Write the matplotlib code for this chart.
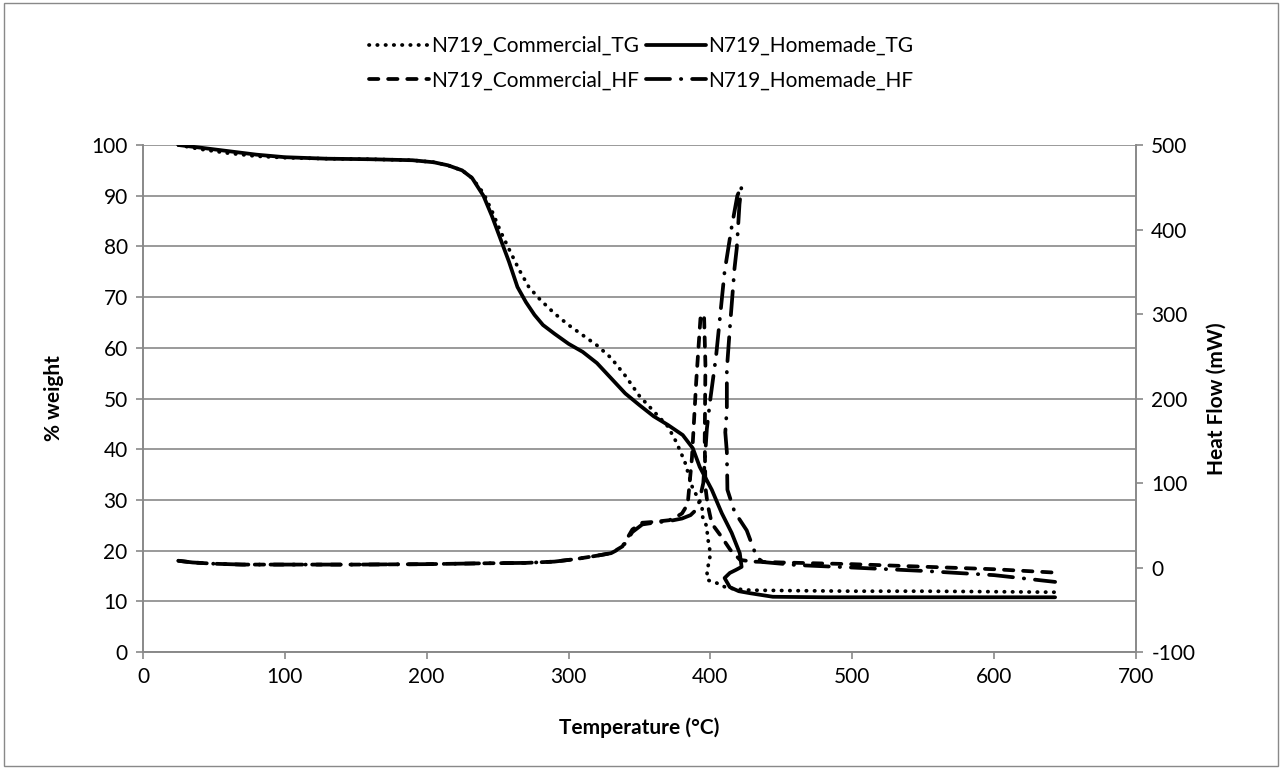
import matplotlib.pyplot as plt
from matplotlib.lines import Line2D
from matplotlib.patches import Rectangle

plt.rcParams['font.family'] = ['Lato', 'DejaVu Sans']
plt.rcParams['axes.unicode_minus'] = False

# TG curves (% weight vs temperature)
temp_comm_tg = [25, 40, 60, 80, 100, 130, 160, 190, 205, 215, 225, 232, 240, 246, 252, 258,
                265, 272, 280, 290, 300, 310, 320, 330, 340, 350, 360, 370, 376, 382, 387.5,
                394, 394.6, 397.5, 398, 399.6, 399.6, 397.5, 398, 404.5, 412, 428, 460, 500,
                550, 600, 643]
wt_comm_tg = [100, 99.2, 98.4, 97.8, 97.5, 97.3, 97.2, 97.0, 96.6, 96, 95, 93.5, 90.5, 87, 83,
              79.5, 75.5, 72, 69.5, 66.8, 64.5, 62.5, 60.5, 58, 54.5, 50.5, 47.5, 44.5, 41.4,
              37.5, 32.3, 29, 26.6, 24.7, 22.7, 20.1, 18.1, 16.2, 14.2, 13.6, 12.6, 12.2, 12.1,
              12.0, 12.0, 11.9, 11.8]

temp_home_tg = [25, 40, 60, 80, 100, 130, 160, 190, 205, 215, 225, 232, 240, 246, 252, 258,
                264, 270, 276, 282, 290, 300, 310, 320, 330, 340, 350, 360, 370, 380.5, 387.6,
                392.5, 401, 408, 415, 420.7, 422, 418, 413.7, 410, 413.7, 420, 428, 444, 480,
                550, 600, 643]
wt_home_tg = [100, 99.5, 98.8, 98.1, 97.6, 97.3, 97.2, 97.0, 96.6, 96, 95, 93.5, 90, 86, 81.5,
              77, 72, 69, 66.5, 64.5, 62.8, 60.8, 59.2, 57, 54, 51, 48.7, 46.5, 44.8, 42.8,
              40.2, 36.5, 32, 27.4, 23.5, 19.5, 16.8, 16.2, 15.6, 14.6, 12.8, 12.0, 11.6, 10.9,
              10.8, 10.8, 10.8, 10.8]

# heat flow curves (mW vs temperature)
temp_comm_hf = [25, 35, 50, 70, 100, 150, 200, 240, 270, 290, 305, 320, 330, 338, 345, 352,
                360, 371, 376, 380, 384, 387, 390, 393, 395.5, 396.5, 396, 396.5, 398, 401,
                408, 414, 421, 430, 450, 500, 550, 600, 643]
hf_comm = [8, 6, 4.5, 3.5, 3.5, 3.5, 4, 5, 5.5, 7, 10, 14, 17, 25, 45, 53, 54, 56, 60, 64, 75,
           130, 220, 295, 300, 240, 150, 95, 75, 52, 36, 21, 9, 7, 6, 4, 1, -2, -6]

temp_home_hf = [25, 35, 50, 70, 100, 150, 200, 240, 270, 290, 305, 320, 330, 338, 345, 352,
                360, 371, 380, 386, 391, 395, 397.5, 400, 404, 407, 410, 415, 419, 422, 420.5,
                418.6, 417, 415.8, 413.7, 411.6, 411.6, 410.5, 411.6, 412, 417, 425.6, 432.7,
                437, 460, 500, 550, 600, 643]
hf_home = [8, 6, 4.5, 3.5, 3.5, 3.5, 4, 5, 5.5, 7, 10, 14, 17, 24, 42, 51, 53, 55, 58, 62, 70,
           100, 164, 200, 250, 300, 350, 403, 440, 452, 430, 378, 354, 328, 283, 234, 186, 160,
           137, 92, 66, 44, 12, 6.5, 3, 0, -4, -9, -17]

GRAY = '#898989'
LW = 2.7
FS = 15
dotted = (0, (0.1, 2.1))
dashed = (0, (2.5, 2.6))
longdashdot = (0, (6.4, 2.9, 0.1, 2.9))

fig = plt.figure(figsize=(12.82, 7.71), dpi=100)
fig.patches.append(Rectangle((0.003, 0.006), 0.994, 0.99, transform=fig.transFigure,
                             fill=False, edgecolor=GRAY, lw=1))
ax = fig.add_axes([0.1115, 0.1543, 0.7746, 0.6576])
ax2 = ax.twinx()

ax.plot(temp_comm_tg, wt_comm_tg, color='black', lw=LW, linestyle=dotted,
        dash_capstyle='round')
ax.plot(temp_home_tg, wt_home_tg, color='black', lw=LW, solid_capstyle='round')
ax2.plot(temp_comm_hf, hf_comm, color='black', lw=LW, linestyle=dashed,
         dash_capstyle='round')
ax2.plot(temp_home_hf, hf_home, color='black', lw=LW, linestyle=longdashdot,
         dash_capstyle='round')

ax.set_xlim(0, 700)
ax.set_ylim(0, 100)
ax2.set_ylim(-100, 500)
ax.set_xticks(range(0, 701, 100))
ax.set_yticks(range(0, 101, 10))
ax2.set_yticks(range(-100, 501, 100))

ax.grid(axis='y', color=GRAY, lw=1.2)
ax.set_axisbelow(True)
for a in (ax, ax2):
    for s in a.spines.values():
        s.set_color(GRAY)
        s.set_linewidth(1.2)
    a.spines['top'].set_visible(False)
    a.tick_params(labelsize=FS, color=GRAY, width=1.2, length=5, direction='out', pad=6)

ax.set_xlabel('Temperature (°C)', fontsize=FS, fontweight='bold', labelpad=22)
ax.set_ylabel('% weight', fontsize=FS, fontweight='bold', labelpad=20)
ax2.set_ylabel('Heat Flow (mW)', fontsize=FS, fontweight='bold', labelpad=8)

handles = [
    Line2D([], [], color='black', lw=LW, linestyle=dotted, dash_capstyle='round'),
    Line2D([], [], color='black', lw=LW, linestyle=dashed, dash_capstyle='round'),
    Line2D([], [], color='black', lw=LW, solid_capstyle='round'),
    Line2D([], [], color='black', lw=LW, linestyle=longdashdot, dash_capstyle='round'),
]
labels = ['N719_Commercial_TG', 'N719_Commercial_HF', 'N719_Homemade_TG', 'N719_Homemade_HF']
fig.legend(handles, labels, loc='center', bbox_to_anchor=(0.5, 0.918), ncol=2,
           frameon=False, fontsize=FS, handlelength=2.9, handletextpad=0.1,
           columnspacing=0.3, labelspacing=0.7)

fig.savefig('out.png', dpi=100)
